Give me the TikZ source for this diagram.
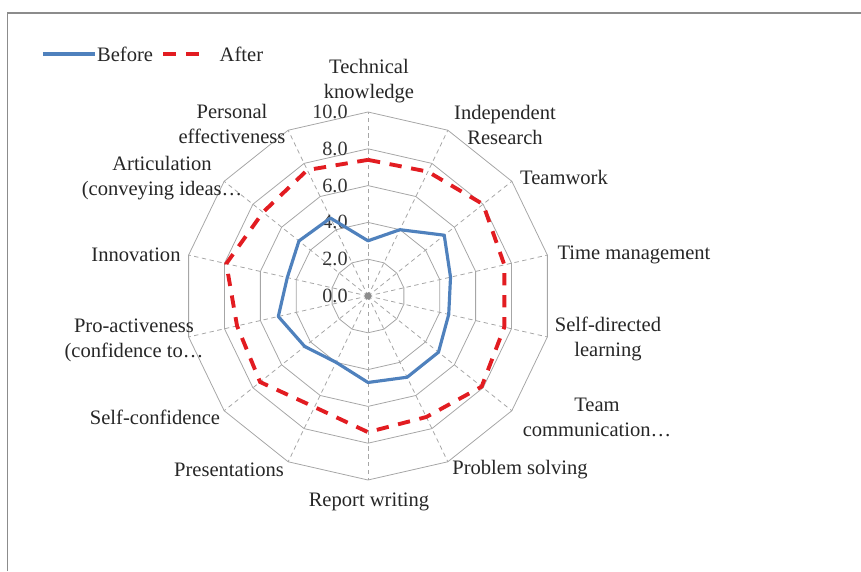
\documentclass[tikz,border=0pt]{standalone}
\usepackage{fontspec}
\setmainfont{Liberation Serif}
\usetikzlibrary{positioning}
\definecolor{beforeblue}{HTML}{4F81BD}
\definecolor{afterred}{RGB}{226,28,33}
\definecolor{gridgray}{HTML}{A6A6A6}
\definecolor{framegray}{HTML}{8C8C8C}

\begin{document}
\begin{tikzpicture}[
		x=0.02cm, y=0.02cm,
		ring/.style={draw=gridgray, line width=0.45pt},
		spoke/.style={draw=gridgray, line width=0.45pt, dash pattern=on 2.5pt off 2pt},
		cat/.style={font=\fontsize{11.7}{14.2}\selectfont, text=black!85, align=center, inner sep=1pt},
		tick/.style={font=\fontsize{11.5}{13}\selectfont, text=black!80, anchor=east, inner sep=0pt},
		before/.style={draw=beforeblue, line width=1.8pt, line join=round},
		after/.style={draw=afterred, line width=2.2pt, dash pattern=on 7pt off 5.5pt},
	]
		\useasboundingbox (-368,-275) rectangle (493,296);
		\draw[framegray, line width=0.6pt] (-360.5,-275) |- (493,283);

		\coordinate (o) at (0,0);
		\foreach \i in {0,...,13}
			\coordinate (s\i) at ({90-\i*25.7143}:184);

		\foreach \r in {2,4,...,10}
			\draw[ring] (90:{\r*18.4}) \foreach \i in {1,...,13} {-- ({90-\i*25.7143}:{\r*18.4})} -- cycle;
		\foreach \i in {0,...,13}
			\draw[spoke] (o) -- (s\i);
		\fill[gridgray!85!black] (o) circle (3.5);

		\foreach \r [count=\k from 0] in {0,2,...,10}
			\node[tick] (v\k) at (-20,{\r*18.4}) {\r.0};

		\draw[after] (90:{7.4*18.4}) \foreach \v [count=\i] in {7.5,8.0,7.6,7.6,7.9,7.3,7.4,6.7,7.5,7.3,7.9,7.3,7.6} {-- ({90-\i*25.7143}:{\v*18.4})} -- cycle;
		\draw[before] (90:{3.0*18.4}) \foreach \v [count=\i] in {4.0,5.3,4.6,4.5,4.9,4.9,4.7,4.0,4.4,5.0,4.5,4.8,4.7} {-- ({90-\i*25.7143}:{\v*18.4})} -- cycle;

		\node[cat] (k0) at (1,215) {Technical\\knowledge};
		\node[cat] (k1) at (137,171) {Independent\\Research};
		\node[cat] (k2) at (196,119) {Teamwork};
		\node[cat] (k3) at (266,41) {Time management};
		\node[cat] (k4) at (240,-43) {Self-directed\\learning};
		\node[cat] (k5) at (229,-121) {Team\\communication…};
		\node[cat] (k6) at (152,-174) {Problem solving};
		\node[cat] (k7) at (1,-206) {Report writing};
		\node[cat] (k8) at (-139,-174) {Presentations};
		\node[cat] (k9) at (-213,-121) {Self-confidence};
		\node[cat] (k10) at (-234,-44) {Pro-activeness\\(confidence to…};
		\node[cat] (k11) at (-232,41) {Innovation};
		\node[cat] (k12) at (-206,118) {Articulation\\(conveying ideas…};
		\node[cat] (k13) at (-136,172) {Personal\\effectiveness};

		\coordinate (b0) at (-325,242);
		\coordinate (b1) at (-273,242);
		\draw[before] (b0) -- (b1);
		\node[cat, anchor=west, inner sep=0pt, right=1pt of b1] (lb) {Before};
		\coordinate[right=0.2cm of lb.east] (a0);
		\coordinate[right=0.8cm of a0] (a1);
		\draw[after, dash pattern=on 7pt off 6pt] (a0) -- (a1);
		\node[cat, anchor=west, inner sep=0pt, right=0.32cm of a1] (la) {After};
	\end{tikzpicture}
\end{document}
